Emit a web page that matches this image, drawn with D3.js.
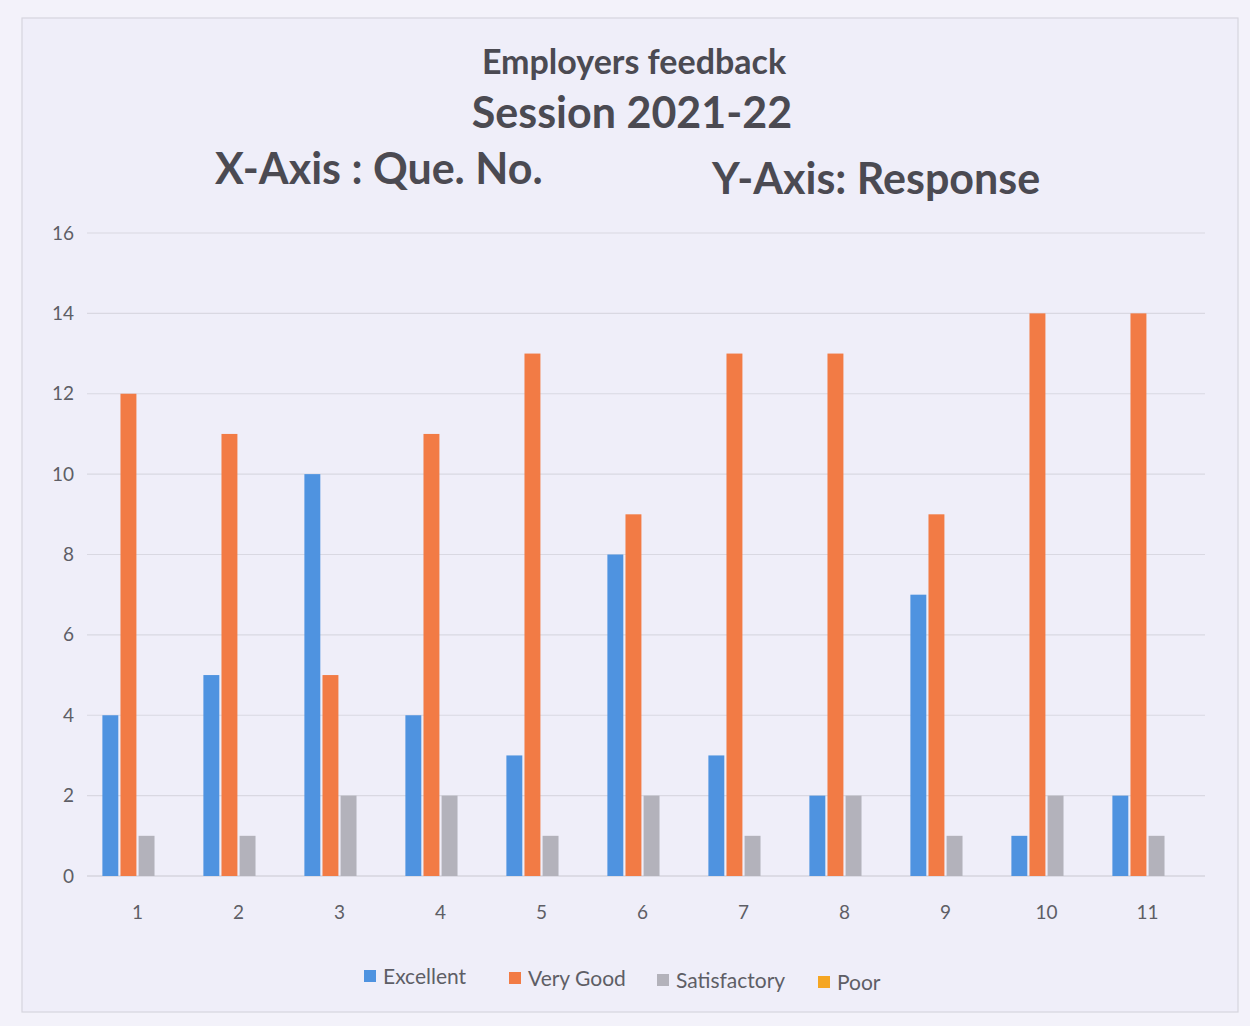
<!DOCTYPE html>
<html><head><meta charset="utf-8">
<script src="https://cdn.jsdelivr.net/npm/d3@7"></script>
<style>
html,body{margin:0;padding:0;background:#f3f2fa;}
svg{display:block;font-family:Lato,"Open Sans",sans-serif;}
</style></head>
<body><svg id="c" width="1250" height="1026"></svg>
<script>
const categories = ["1","2","3","4","5","6","7","8","9","10","11"];
const seriesNames = ["Excellent","Very Good","Satisfactory","Poor"];
const excellent = [4,5,10,4,3,8,3,2,7,1,2];
const veryGood = [12,11,5,11,13,9,13,13,9,14,14];
const satisfactory = [1,1,2,2,1,2,1,2,1,2,1];
const poor = [0,0,0,0,0,0,0,0,0,0,0];
const yTicks = [0,2,4,6,8,10,12,14,16];
const colors = ["#4f93e0","#f27b45","#b3b2bb","#f5a623"];

const series = [excellent, veryGood, satisfactory, poor];
const svg = d3.select("#c");
svg.append("rect").attr("x",0).attr("y",0).attr("width",1250).attr("height",1026).attr("fill","#f3f2fa");
svg.append("rect").attr("x",22).attr("y",18).attr("width",1216).attr("height",994)
  .attr("fill","#efeef9").attr("stroke","#d6d5de").attr("stroke-width",1.2);

const x = d3.scaleBand().domain(categories).range([87,1198]).paddingInner(0).paddingOuter(0);
const xi = d3.scaleBand().domain(seriesNames).range([0,x.bandwidth()]).paddingInner(0.12).paddingOuter(0.85);
const y = d3.scaleLinear().domain([0,16]).range([876,233]);

// gridlines
const grid = svg.append("g");
grid.selectAll("line").data(yTicks).join("line")
  .attr("x1",87).attr("x2",1205)
  .attr("y1",d=>y(d)).attr("y2",d=>y(d))
  .attr("stroke",d=>d===0?"#c9c8d2":"#d9d8e2").attr("stroke-width",1.2);

// y axis labels
const yAxis = d3.axisLeft(y).tickValues(yTicks).tickSize(0).tickPadding(14);
const ya = svg.append("g").attr("transform","translate(88,0)").call(yAxis);
ya.select(".domain").remove();
ya.selectAll("text").attr("font-size",19).attr("fill","#5e5e66").attr("font-family","Lato, sans-serif");

// x axis labels
const xAxis = d3.axisBottom(x).tickSize(0).tickPadding(30);
const xa = svg.append("g").attr("transform","translate(0,876)").call(xAxis);
xa.select(".domain").remove();
xa.selectAll("text").attr("font-size",19).attr("fill","#5e5e66").attr("font-family","Lato, sans-serif");

// bars
const g = svg.append("g");
categories.forEach((c,i)=>{
  seriesNames.forEach((s,j)=>{
    const v = series[j][i];
    g.append("rect")
      .attr("x", x(c)+xi(s))
      .attr("y", y(v))
      .attr("width", xi.bandwidth())
      .attr("height", y(0)-y(v))
      .attr("fill", colors[j]);
  });
});

// titles
const tcol = "#4b4a52";
svg.append("text").attr("x",634).attr("y",74).attr("text-anchor","middle")
  .attr("font-size",34).attr("font-weight",700).attr("fill",tcol).text("Employers feedback");
svg.append("text").attr("x",632).attr("y",128).attr("text-anchor","middle")
  .attr("font-size",43).attr("font-weight",700).attr("fill",tcol).text("Session 2021-22");
svg.append("text").attr("x",215).attr("y",184)
  .attr("font-size",43).attr("font-weight",700).attr("fill",tcol).text("X-Axis : Que. No.");
svg.append("text").attr("x",712).attr("y",194)
  .attr("font-size",43).attr("font-weight",700).attr("fill",tcol).text("Y-Axis: Response");

// legend
const legX = [364,509,657,818];
const leg = svg.append("g");
seriesNames.forEach((s,j)=>{
  leg.append("rect").attr("x",legX[j]).attr("y",970+j*2).attr("width",12).attr("height",12).attr("fill",colors[j]);
  leg.append("text").attr("x",legX[j]+19).attr("y",984+j*2).attr("font-size",21)
    .attr("fill","#5e5e66").text(s);
});
</script>
</body></html>
